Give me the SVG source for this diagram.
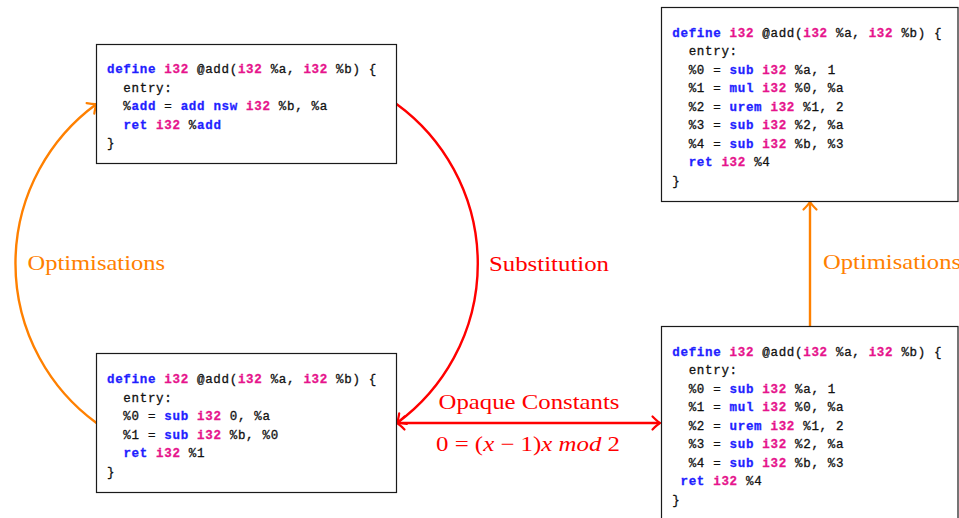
<svg xmlns="http://www.w3.org/2000/svg" width="959" height="518" viewBox="0 0 959 518">
  <style>
    .box { fill: #ffffff; stroke: #1a1a1a; stroke-width: 1.2; }
    .code { font-family: "Liberation Mono", "DejaVu Sans Mono", monospace; font-size: 12.5px; letter-spacing: 0.68px; fill: #111111; stroke: #111111; stroke-width: 0.3; }
    .k { fill: #1f1fff; stroke: #1f1fff; font-weight: bold; }
    .t { fill: #e6148c; stroke: #e6148c; font-weight: bold; }
    .lbl { font-family: "Liberation Serif", "Times New Roman", serif; font-size: 21px; }
    .orange { fill: #ff8000; }
    .red { fill: #ff0000; }
    .it { font-style: italic; }
    .edge { fill: none; stroke-width: 2.4; }
  </style>
  <defs>
    <marker id="tipOrange" markerUnits="userSpaceOnUse" markerWidth="20" markerHeight="20" viewBox="-10 -10 20 20" refX="0" refY="0" orient="auto" overflow="visible">
      <path d="M-7.5,-6.5 Q-2.5,-1.5 0,0 Q-2.5,1.5 -7.5,6.5" fill="none" stroke="#ff8000" stroke-width="2.2" stroke-linecap="round"/>
    </marker>
    <marker id="tipRed" markerUnits="userSpaceOnUse" markerWidth="20" markerHeight="20" viewBox="-10 -10 20 20" refX="0" refY="0" orient="auto-start-reverse" overflow="visible">
      <path d="M-7.5,-6.5 Q-2.5,-1.5 0,0 Q-2.5,1.5 -7.5,6.5" fill="none" stroke="#ff0000" stroke-width="2.2" stroke-linecap="round"/>
    </marker>
  </defs>

  <rect width="959" height="518" fill="#ffffff"/>

  <!-- connectors -->
  <g id="connectors">
    <path class="edge" stroke="#ff8000" d="M 96.5 423 A 197.5 197.5 0 0 1 96.5 104" marker-end="url(#tipOrange)"/>
    <path class="edge" stroke="#ff0000" d="M 396.5 104 A 197.5 197.5 0 0 1 397 423" marker-end="url(#tipRed)"/>
    <path class="edge" stroke="#ff0000" d="M 397 423 L 660 423" marker-start="url(#tipRed)" marker-end="url(#tipRed)"/>
    <path class="edge" stroke="#ff8000" d="M 810 326 L 810 202" marker-end="url(#tipOrange)"/>
    <text class="lbl orange" x="27.5" y="270" textLength="137.5" lengthAdjust="spacingAndGlyphs">Optimisations</text>
    <text class="lbl red" x="489" y="271" textLength="120" lengthAdjust="spacingAndGlyphs">Substitution</text>
    <text class="lbl red" x="438.5" y="409" textLength="181" lengthAdjust="spacingAndGlyphs">Opaque Constants</text>
    <text class="lbl red" x="436" y="451" textLength="184" lengthAdjust="spacingAndGlyphs">0 = (<tspan class="it">x</tspan> − 1)<tspan class="it">x mod</tspan> 2</text>
    <text class="lbl orange" x="823" y="269" textLength="138" lengthAdjust="spacingAndGlyphs">Optimisations</text>
  </g>

  <!-- original function -->
  <g id="node-original">
    <rect class="box" x="96.5" y="44.5" width="300" height="119"/>
    <text class="code" xml:space="preserve" x="107" y="73"><tspan class="k">define</tspan> <tspan class="t">i32</tspan> @add(<tspan class="t">i32</tspan> %a, <tspan class="t">i32</tspan> %b) {</text>
    <text class="code" xml:space="preserve" x="107" y="91.5">  entry:</text>
    <text class="code" xml:space="preserve" x="107" y="110">  %<tspan class="k">add</tspan> = <tspan class="k">add</tspan> <tspan class="k">nsw</tspan> <tspan class="t">i32</tspan> %b, %a</text>
    <text class="code" xml:space="preserve" x="107" y="128.5">  <tspan class="k">ret</tspan> <tspan class="t">i32</tspan> %<tspan class="k">add</tspan></text>
    <text class="code" xml:space="preserve" x="107" y="147">}</text>
  </g>

  <!-- substituted function -->
  <g id="node-substituted">
    <rect class="box" x="96.5" y="353.5" width="300" height="139"/>
    <text class="code" xml:space="preserve" x="107" y="383"><tspan class="k">define</tspan> <tspan class="t">i32</tspan> @add(<tspan class="t">i32</tspan> %a, <tspan class="t">i32</tspan> %b) {</text>
    <text class="code" xml:space="preserve" x="107" y="401.5">  entry:</text>
    <text class="code" xml:space="preserve" x="107" y="420">  %0 = <tspan class="k">sub</tspan> <tspan class="t">i32</tspan> 0, %a</text>
    <text class="code" xml:space="preserve" x="107" y="438.5">  %1 = <tspan class="k">sub</tspan> <tspan class="t">i32</tspan> %b, %0</text>
    <text class="code" xml:space="preserve" x="107" y="457">  <tspan class="k">ret</tspan> <tspan class="t">i32</tspan> %1</text>
    <text class="code" xml:space="preserve" x="107" y="475.5">}</text>
  </g>

  <!-- optimised obfuscated function -->
  <g id="node-optimised">
    <rect class="box" x="661.5" y="7.5" width="296.5" height="194"/>
    <text class="code" xml:space="preserve" x="672.3" y="36.7"><tspan class="k">define</tspan> <tspan class="t">i32</tspan> @add(<tspan class="t">i32</tspan> %a, <tspan class="t">i32</tspan> %b) {</text>
    <text class="code" xml:space="preserve" x="672.3" y="55.2">  entry:</text>
    <text class="code" xml:space="preserve" x="672.3" y="73.7">  %0 = <tspan class="k">sub</tspan> <tspan class="t">i32</tspan> %a, 1</text>
    <text class="code" xml:space="preserve" x="672.3" y="92.2">  %1 = <tspan class="k">mul</tspan> <tspan class="t">i32</tspan> %0, %a</text>
    <text class="code" xml:space="preserve" x="672.3" y="110.7">  %2 = <tspan class="k">urem</tspan> <tspan class="t">i32</tspan> %1, 2</text>
    <text class="code" xml:space="preserve" x="672.3" y="129.2">  %3 = <tspan class="k">sub</tspan> <tspan class="t">i32</tspan> %2, %a</text>
    <text class="code" xml:space="preserve" x="672.3" y="147.7">  %4 = <tspan class="k">sub</tspan> <tspan class="t">i32</tspan> %b, %3</text>
    <text class="code" xml:space="preserve" x="672.3" y="166.2">  <tspan class="k">ret</tspan> <tspan class="t">i32</tspan> %4</text>
    <text class="code" xml:space="preserve" x="672.3" y="184.7">}</text>
  </g>

  <!-- opaque constant function -->
  <g id="node-opaque">
    <rect class="box" x="661.5" y="326.5" width="296.5" height="200"/>
    <text class="code" xml:space="preserve" x="672.3" y="355.7"><tspan class="k">define</tspan> <tspan class="t">i32</tspan> @add(<tspan class="t">i32</tspan> %a, <tspan class="t">i32</tspan> %b) {</text>
    <text class="code" xml:space="preserve" x="672.3" y="374.2">  entry:</text>
    <text class="code" xml:space="preserve" x="672.3" y="392.7">  %0 = <tspan class="k">sub</tspan> <tspan class="t">i32</tspan> %a, 1</text>
    <text class="code" xml:space="preserve" x="672.3" y="411.2">  %1 = <tspan class="k">mul</tspan> <tspan class="t">i32</tspan> %0, %a</text>
    <text class="code" xml:space="preserve" x="672.3" y="429.7">  %2 = <tspan class="k">urem</tspan> <tspan class="t">i32</tspan> %1, 2</text>
    <text class="code" xml:space="preserve" x="672.3" y="448.2">  %3 = <tspan class="k">sub</tspan> <tspan class="t">i32</tspan> %2, %a</text>
    <text class="code" xml:space="preserve" x="672.3" y="466.7">  %4 = <tspan class="k">sub</tspan> <tspan class="t">i32</tspan> %b, %3</text>
    <text class="code" xml:space="preserve" x="672.3" y="485.2"> <tspan class="k">ret</tspan> <tspan class="t">i32</tspan> %4</text>
    <text class="code" xml:space="preserve" x="672.3" y="503.7">}</text>
  </g>
</svg>
